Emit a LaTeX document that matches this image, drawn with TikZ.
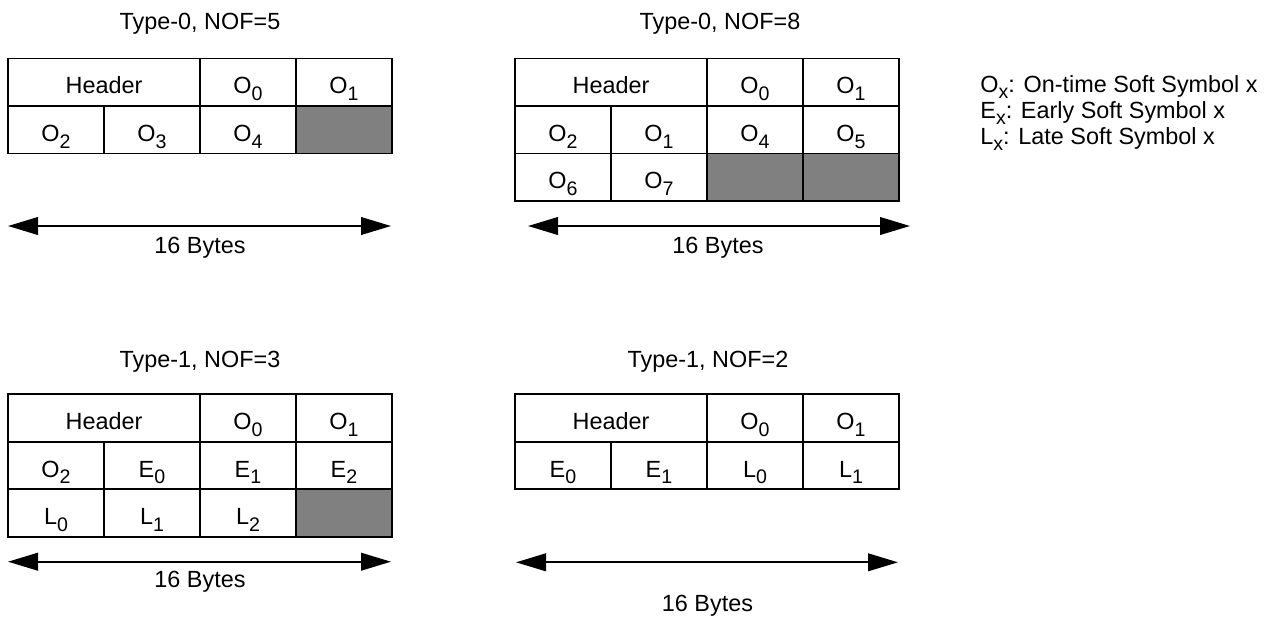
\documentclass[tikz,border=0pt]{standalone}
\usepackage{fontspec}
\setmainfont{Liberation Sans}
\usetikzlibrary{arrows.meta}

\newcommand{\sub}[1]{\raisebox{-3.4pt}{\fontsize{9.8}{11}\selectfont #1}}

\tikzset{
  txt/.style={font=\fontsize{11.7}{13}\selectfont, inner sep=0pt},
  cell/.style={txt, draw, line width=0.8pt, minimum width=48pt, minimum height=23.75pt,
    text height=11.5pt, text depth=0pt},
  pad/.style={cell, fill=gray},
  span/.style={line width=1pt, {Triangle[length=15pt,width=8.8pt]}-{Triangle[length=15pt,width=8.8pt]}}
}

\begin{document}
\begin{tikzpicture}[x=0.5pt,y=-0.5pt]
  \useasboundingbox (0,0) rectangle (1266,618);

  % Type-0, NOF=5
  \node[txt] (a-title) at (200,23.5) {Type-0, NOF=5};
  \node[cell, minimum width=96pt] (a-hdr) at (104,82.25) {Header};
  \node[cell] (a-o0) at (248,82.25) {O\sub{0}};
  \node[cell] (a-o1) at (344,82.25) {O\sub{1}};
  \node[cell] (a-o2) at (56,129.75) {O\sub{2}};
  \node[cell] (a-o3) at (152,129.75) {O\sub{3}};
  \node[cell] (a-o4) at (248,129.75) {O\sub{4}};
  \node[pad] (a-pad) at (344,129.75) {};
  \coordinate (a-l) at (8,226);
  \coordinate (a-r) at (391,226);
  \draw[span] (a-l) -- (a-r);
  \node[txt] (a-bytes) at (200,248) {16 Bytes};

  % Type-0, NOF=8
  \node[txt] (b-title) at (720,23.5) {Type-0, NOF=8};
  \node[cell, minimum width=96pt] (b-hdr) at (611,82.25) {Header};
  \node[cell] (b-o0) at (755,82.25) {O\sub{0}};
  \node[cell] (b-o1) at (851,82.25) {O\sub{1}};
  \node[cell] (b-o2) at (563,129.75) {O\sub{2}};
  \node[cell] (b-o3) at (659,129.75) {O\sub{1}};
  \node[cell] (b-o4) at (755,129.75) {O\sub{4}};
  \node[cell] (b-o5) at (851,129.75) {O\sub{5}};
  \node[cell] (b-o6) at (563,177.25) {O\sub{6}};
  \node[cell] (b-o7) at (659,177.25) {O\sub{7}};
  \node[pad] (b-pad1) at (755,177.25) {};
  \node[pad] (b-pad2) at (851,177.25) {};
  \coordinate (b-l) at (528,226);
  \coordinate (b-r) at (910,226);
  \draw[span] (b-l) -- (b-r);
  \node[txt] (b-bytes) at (718,248) {16 Bytes};

  % legend
  \node[txt, anchor=west, align=left] (legend) at (980,113)
    {O\sub{x}: On-time Soft Symbol x\\
     E\sub{x}: Early Soft Symbol x\\
     L\sub{x}: Late Soft Symbol x};

  % Type-1, NOF=3
  \node[txt] (c-title) at (200,361.7) {Type-1, NOF=3};
  \node[cell, minimum width=96pt] (c-hdr) at (104,418) {Header};
  \node[cell] (c-o0) at (248,418) {O\sub{0}};
  \node[cell] (c-o1) at (344,418) {O\sub{1}};
  \node[cell] (c-o2) at (56,465.5) {O\sub{2}};
  \node[cell] (c-e0) at (152,465.5) {E\sub{0}};
  \node[cell] (c-e1) at (248,465.5) {E\sub{1}};
  \node[cell] (c-e2) at (344,465.5) {E\sub{2}};
  \node[cell] (c-l0) at (56,513) {L\sub{0}};
  \node[cell] (c-l1) at (152,513) {L\sub{1}};
  \node[cell] (c-l2) at (248,513) {L\sub{2}};
  \node[pad] (c-pad) at (344,513) {};
  \coordinate (c-l) at (8,561.7);
  \coordinate (c-r) at (391,561.7);
  \draw[span] (c-l) -- (c-r);
  \node[txt] (c-bytes) at (200,581.7) {16 Bytes};

  % Type-1, NOF=2
  \node[txt] (d-title) at (708,361.7) {Type-1, NOF=2};
  \node[cell, minimum width=96pt] (d-hdr) at (611,418) {Header};
  \node[cell] (d-o0) at (755,418) {O\sub{0}};
  \node[cell] (d-o1) at (851,418) {O\sub{1}};
  \node[cell] (d-e0) at (563,465.5) {E\sub{0}};
  \node[cell] (d-e1) at (659,465.5) {E\sub{1}};
  \node[cell] (d-l0) at (755,465.5) {L\sub{0}};
  \node[cell] (d-l1) at (851,465.5) {L\sub{1}};
  \coordinate (d-l) at (516,562.3);
  \coordinate (d-r) at (898,562.3);
  \draw[span] (d-l) -- (d-r);
  \node[txt] (d-bytes) at (707.5,606) {16 Bytes};
\end{tikzpicture}
\end{document}
